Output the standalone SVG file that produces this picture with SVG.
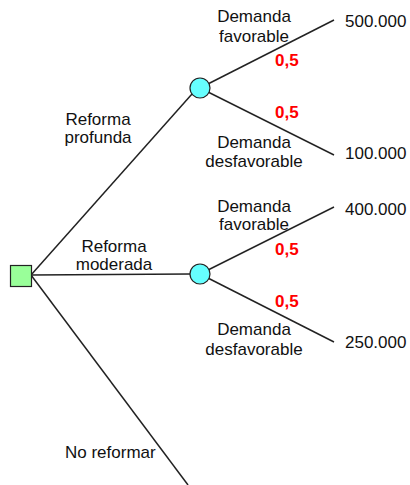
<svg xmlns="http://www.w3.org/2000/svg" width="410" height="485" viewBox="0 0 410 485">
<style>
.t{font-family:"Liberation Sans",Arial,sans-serif;font-size:17px;fill:#111}
.c{text-anchor:middle}
.p{font-family:"Liberation Sans",Arial,sans-serif;font-size:17px;font-weight:bold;fill:#ff0000}
.l{stroke:#222;stroke-width:1.5;fill:none}
</style>
<rect width="410" height="485" fill="#fff"/>
<g id="connectors">
<line class="l" x1="31" y1="275" x2="192" y2="94"/>
<line class="l" x1="31" y1="275" x2="190" y2="274"/>
<line class="l" x1="31" y1="275" x2="188" y2="485"/>
<line class="l" x1="200" y1="88" x2="334" y2="20"/>
<line class="l" x1="200" y1="88" x2="334" y2="155"/>
<line class="l" x1="200" y1="274" x2="334" y2="207"/>
<line class="l" x1="200" y1="274" x2="334" y2="342"/>
</g>
<g id="decision"><rect x="10.5" y="265.5" width="21" height="21" fill="#99ff99" stroke="#222" stroke-width="1.2"/></g>
<g id="chance1"><circle cx="200" cy="88" r="10" fill="#66ffff" stroke="#222" stroke-width="1.2"/></g>
<g id="chance2"><circle cx="200" cy="274" r="10" fill="#66ffff" stroke="#222" stroke-width="1.2"/></g>
<g id="labels">
<text class="t c" x="98" y="125">Reforma</text>
<text class="t c" x="98" y="143">profunda</text>
<text class="t c" x="114" y="252">Reforma</text>
<text class="t c" x="114" y="270">moderada</text>
<text class="t" x="65" y="458">No reformar</text>
<text class="t c" x="254" y="22">Demanda</text>
<text class="t c" x="254" y="42">favorable</text>
<text class="p" x="275" y="66">0,5</text>
<text class="p" x="275" y="118">0,5</text>
<text class="t c" x="254" y="148">Demanda</text>
<text class="t c" x="254" y="167">desfavorable</text>
<text class="t" x="345" y="27">500.000</text>
<text class="t" x="345" y="159">100.000</text>
<text class="t c" x="254" y="212">Demanda</text>
<text class="t c" x="254" y="230">favorable</text>
<text class="p" x="275" y="255">0,5</text>
<text class="p" x="275" y="307">0,5</text>
<text class="t c" x="254" y="335">Demanda</text>
<text class="t c" x="254" y="355">desfavorable</text>
<text class="t" x="345" y="215">400.000</text>
<text class="t" x="345" y="348">250.000</text>
</g>
</svg>
